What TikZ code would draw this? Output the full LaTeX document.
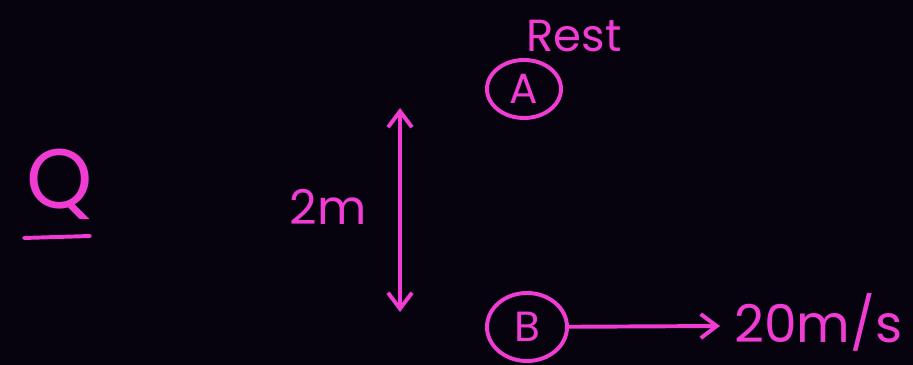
\documentclass[tikz,border=0pt]{standalone}
\usepackage{fontspec}
\setmainfont{Poppins}
\usetikzlibrary{arrows.meta,positioning,shapes.geometric}
\definecolor{inkpink}{RGB}{240,60,210}
\definecolor{boardblack}{RGB}{6,3,14}
\tikzset{
  ink/.style={draw=inkpink, line width=2.8pt, line cap=round},
  body/.style={ellipse, ink, inner sep=0pt, text=inkpink, font=\fontsize{30}{32}\selectfont},
  scrawl/.style={text=inkpink, inner sep=0pt, font=\fontsize{34}{36}\selectfont},
  vec/.style={ink, -{Straight Barb[length=4mm, width=6mm]}},
}
\begin{document}
\begin{tikzpicture}[x=0.025cm, y=-0.025cm]
\fill[boardblack] (0,0) rectangle (913,365);
\useasboundingbox (0,0) rectangle (913,365);
% question mark
\node[scrawl, font=\fontsize{60}{62}\selectfont] (qmark) at (60,184) {Q};
\draw[ink] (24,238) -- (90,236);
% the two bodies
\node[body, minimum width=1.85cm, minimum height=1.45cm] (bodyA) at (524,89) {A};
\node[scrawl, font=\fontsize{32}{34}\selectfont] (rest) at (574,36) {Rest};
\node[body, minimum width=2.0cm, minimum height=1.7cm] (bodyB) at (527,327) {B};
\coordinate (tipB) at (720,326);
\draw[vec] (bodyB) -- (tipB);
\node[scrawl, anchor=west, font=\fontsize{37}{39}\selectfont] (speed) at (734,322) {20m/s};
% separation
\coordinate (gapTop) at (400,108);
\coordinate (gapBot) at (400,312);
\draw[ink, {Straight Barb[length=4mm, width=6mm]}-{Straight Barb[length=4mm, width=6mm]}] (gapTop) -- (gapBot);
\node[scrawl] (gap) at (328,207) {2m};
\end{tikzpicture}
\end{document}
